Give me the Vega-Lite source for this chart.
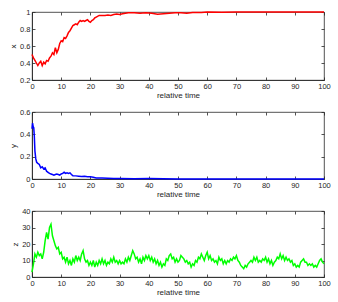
{
  "$schema": "https://vega.github.io/schema/vega-lite/v6.json",
  "padding": {"left": 9, "top": 7, "right": 8, "bottom": 2},
  "background": "white",
  "spacing": 7,
  "config": {
    "view": {"stroke": "#262626", "strokeWidth": 0.8},
    "font": "Liberation Sans",
    "axis": {
      "domainColor": "#262626", "domainWidth": 0.8,
      "tickColor": "#262626", "tickWidth": 0.8, "tickSize": -3,
      "labelColor": "#262626", "labelFont": "Liberation Sans", "labelFontSize": 7.5,
      "titleColor": "#262626", "titleFont": "Liberation Sans", "titleFontSize": 8, "titleFontWeight": "normal",
      "grid": false, "labelPadding": 5, "titlePadding": 2, "labelFlush": false, "labelOverlap": false
    }
  },
  "datasets": {
    "xs": [
      {"t":0,"v":0.5},{"t":0.5,"v":0.46},{"t":1,"v":0.43},{"t":1.5,"v":0.4},{"t":2,"v":0.37},{"t":2.5,"v":0.4},{"t":3,"v":0.42},{"t":3.5,"v":0.37},{"t":4,"v":0.41},{"t":4.5,"v":0.39},{"t":5,"v":0.43},{"t":5.5,"v":0.42},{"t":6,"v":0.46},{"t":6.5,"v":0.48},{"t":7,"v":0.52},{"t":7.5,"v":0.5},{"t":8,"v":0.58},{"t":8.5,"v":0.52},{"t":9,"v":0.56},{"t":9.5,"v":0.63},{"t":10,"v":0.66},{"t":10.5,"v":0.65},{"t":11,"v":0.7},{"t":11.5,"v":0.69},{"t":12,"v":0.72},{"t":12.5,"v":0.76},{"t":13,"v":0.78},{"t":13.5,"v":0.81},{"t":14,"v":0.84},{"t":14.5,"v":0.85},{"t":15,"v":0.86},{"t":15.5,"v":0.85},{"t":16,"v":0.88},{"t":16.5,"v":0.9},{"t":17,"v":0.89},{"t":17.5,"v":0.9},{"t":18,"v":0.89},{"t":18.5,"v":0.9},{"t":19,"v":0.91},{"t":19.5,"v":0.89},{"t":20,"v":0.88},{"t":20.5,"v":0.9},{"t":21,"v":0.91},{"t":21.5,"v":0.93},{"t":22,"v":0.94},{"t":23,"v":0.96},{"t":24,"v":0.96},{"t":25,"v":0.96},{"t":26,"v":0.965},{"t":27,"v":0.96},{"t":28,"v":0.97},{"t":29,"v":0.975},{"t":30,"v":0.97},{"t":31,"v":0.98},{"t":32,"v":0.985},{"t":33,"v":0.99},{"t":35,"v":0.99},{"t":37,"v":0.985},{"t":39,"v":0.99},{"t":41,"v":0.985},{"t":43,"v":0.975},{"t":45,"v":0.98},{"t":47,"v":0.985},{"t":49,"v":0.99},{"t":51,"v":0.99},{"t":53,"v":0.985},{"t":55,"v":0.995},{"t":58,"v":0.995},{"t":60,"v":1},{"t":65,"v":0.998},{"t":70,"v":1},{"t":80,"v":1},{"t":90,"v":1},{"t":100,"v":1}
    ],
    "ys": [
      {"t":0,"v":0.45},{"t":0.2,"v":0.5},{"t":0.4,"v":0.47},{"t":0.6,"v":0.46},{"t":0.8,"v":0.38},{"t":1,"v":0.25},{"t":1.3,"v":0.18},{"t":1.6,"v":0.15},{"t":2,"v":0.14},{"t":2.5,"v":0.13},{"t":3,"v":0.1},{"t":3.5,"v":0.11},{"t":4,"v":0.09},{"t":4.5,"v":0.1},{"t":5,"v":0.07},{"t":5.5,"v":0.06},{"t":6,"v":0.05},{"t":6.5,"v":0.045},{"t":7,"v":0.04},{"t":7.5,"v":0.035},{"t":8,"v":0.04},{"t":8.5,"v":0.045},{"t":9,"v":0.04},{"t":9.5,"v":0.035},{"t":10,"v":0.045},{"t":10.5,"v":0.05},{"t":11,"v":0.06},{"t":11.5,"v":0.05},{"t":12,"v":0.055},{"t":12.5,"v":0.05},{"t":13,"v":0.055},{"t":13.5,"v":0.04},{"t":14,"v":0.03},{"t":15,"v":0.028},{"t":16,"v":0.025},{"t":17,"v":0.022},{"t":18,"v":0.025},{"t":19,"v":0.02},{"t":20,"v":0.02},{"t":21,"v":0.015},{"t":22,"v":0.01},{"t":24,"v":0.009},{"t":26,"v":0.007},{"t":28,"v":0.005},{"t":30,"v":0.004},{"t":35,"v":0.003},{"t":40,"v":0.004},{"t":45,"v":0.003},{"t":50,"v":0.001},{"t":60,"v":0},{"t":70,"v":0},{"t":80,"v":0},{"t":90,"v":0},{"t":100,"v":0}
    ],
    "zs": [
      {"t":0,"v":3},{"t":0.5,"v":8},{"t":1,"v":14},{"t":1.5,"v":12},{"t":2,"v":15},{"t":2.5,"v":13},{"t":3,"v":14},{"t":3.5,"v":11},{"t":4,"v":15},{"t":4.5,"v":22},{"t":5,"v":27},{"t":5.5,"v":23},{"t":6,"v":30},{"t":6.5,"v":32},{"t":7,"v":25},{"t":7.5,"v":22},{"t":8,"v":19},{"t":8.5,"v":17},{"t":9,"v":18},{"t":9.5,"v":14},{"t":10,"v":15},{"t":10.5,"v":11},{"t":11,"v":12},{"t":11.5,"v":9},{"t":12,"v":12},{"t":12.5,"v":8},{"t":13,"v":10},{"t":13.5,"v":7},{"t":14,"v":11},{"t":14.5,"v":9},{"t":15,"v":13},{"t":15.5,"v":10},{"t":16,"v":12},{"t":16.5,"v":10},{"t":17,"v":14},{"t":17.5,"v":16},{"t":18,"v":11},{"t":18.5,"v":9},{"t":19,"v":10},{"t":19.5,"v":7},{"t":20,"v":9},{"t":20.5,"v":7},{"t":21,"v":10},{"t":21.5,"v":6},{"t":22,"v":9},{"t":22.5,"v":7},{"t":23,"v":10},{"t":23.5,"v":8},{"t":24,"v":11},{"t":24.5,"v":8},{"t":25,"v":10},{"t":25.5,"v":7},{"t":26,"v":9},{"t":26.5,"v":8},{"t":27,"v":11},{"t":27.5,"v":9},{"t":28,"v":12},{"t":28.5,"v":9},{"t":29,"v":10},{"t":29.5,"v":8},{"t":30,"v":10},{"t":30.5,"v":8},{"t":31,"v":9},{"t":31.5,"v":8},{"t":32,"v":11},{"t":32.5,"v":9},{"t":33,"v":12},{"t":33.5,"v":10},{"t":34,"v":13},{"t":34.5,"v":16},{"t":35,"v":14},{"t":35.5,"v":11},{"t":36,"v":12},{"t":36.5,"v":9},{"t":37,"v":11},{"t":37.5,"v":8},{"t":38,"v":12},{"t":38.5,"v":10},{"t":39,"v":13},{"t":39.5,"v":11},{"t":40,"v":13},{"t":40.5,"v":10},{"t":41,"v":12},{"t":41.5,"v":9},{"t":42,"v":11},{"t":42.5,"v":8},{"t":43,"v":10},{"t":43.5,"v":7},{"t":44,"v":9},{"t":44.5,"v":6},{"t":45,"v":8},{"t":45.5,"v":7},{"t":46,"v":11},{"t":46.5,"v":10},{"t":47,"v":13},{"t":47.5,"v":14},{"t":48,"v":11},{"t":48.5,"v":12},{"t":49,"v":9},{"t":49.5,"v":11},{"t":50,"v":9},{"t":50.5,"v":10},{"t":51,"v":13},{"t":51.5,"v":12},{"t":52,"v":11},{"t":52.5,"v":9},{"t":53,"v":10},{"t":53.5,"v":8},{"t":54,"v":9},{"t":54.5,"v":6},{"t":55,"v":8},{"t":55.5,"v":7},{"t":56,"v":10},{"t":56.5,"v":9},{"t":57,"v":12},{"t":57.5,"v":11},{"t":58,"v":14},{"t":58.5,"v":12},{"t":59,"v":10},{"t":59.5,"v":13},{"t":60,"v":15},{"t":60.5,"v":11},{"t":61,"v":13},{"t":61.5,"v":10},{"t":62,"v":11},{"t":62.5,"v":9},{"t":63,"v":10},{"t":63.5,"v":8},{"t":64,"v":12},{"t":64.5,"v":10},{"t":65,"v":11},{"t":65.5,"v":8},{"t":66,"v":10},{"t":66.5,"v":8},{"t":67,"v":10},{"t":67.5,"v":9},{"t":68,"v":11},{"t":68.5,"v":10},{"t":69,"v":12},{"t":69.5,"v":11},{"t":70,"v":13},{"t":70.5,"v":10},{"t":71,"v":9},{"t":71.5,"v":7},{"t":72,"v":6},{"t":72.5,"v":5},{"t":73,"v":7},{"t":73.5,"v":6},{"t":74,"v":8},{"t":74.5,"v":9},{"t":75,"v":10},{"t":75.5,"v":9},{"t":76,"v":12},{"t":76.5,"v":10},{"t":77,"v":12},{"t":77.5,"v":9},{"t":78,"v":10},{"t":78.5,"v":9},{"t":79,"v":11},{"t":79.5,"v":10},{"t":80,"v":12},{"t":80.5,"v":9},{"t":81,"v":11},{"t":81.5,"v":8},{"t":82,"v":10},{"t":82.5,"v":7},{"t":83,"v":9},{"t":83.5,"v":10},{"t":84,"v":12},{"t":84.5,"v":11},{"t":85,"v":14},{"t":85.5,"v":11},{"t":86,"v":13},{"t":86.5,"v":10},{"t":87,"v":12},{"t":87.5,"v":10},{"t":88,"v":11},{"t":88.5,"v":9},{"t":89,"v":10},{"t":89.5,"v":7},{"t":90,"v":8},{"t":90.5,"v":6},{"t":91,"v":7},{"t":91.5,"v":6},{"t":92,"v":9},{"t":92.5,"v":10},{"t":93,"v":11},{"t":93.5,"v":9},{"t":94,"v":9},{"t":94.5,"v":7},{"t":95,"v":8},{"t":95.5,"v":7},{"t":96,"v":8},{"t":96.5,"v":6},{"t":97,"v":7},{"t":97.5,"v":6},{"t":98,"v":8},{"t":98.5,"v":10},{"t":99,"v":11},{"t":99.5,"v":9},{"t":100,"v":8}
    ]
  },
  "vconcat": [
    {
      "width": 292, "height": 68,
      "data": {"name": "xs"},
      "resolve": {"axis": {"x": "independent", "y": "independent"}},
      "layer": [
        {
          "mark": {"type": "line", "color": "#ff0000", "strokeWidth": 1.5},
          "encoding": {
            "x": {"field": "t", "type": "quantitative", "scale": {"domain": [0, 100], "nice": false}, "axis": {"title": "relative time", "values": [0,10,20,30,40,50,60,70,80,90,100]}},
            "y": {"field": "v", "type": "quantitative", "scale": {"domain": [0.2, 1], "nice": false}, "axis": {"title": "x", "values": [0.2,0.4,0.6,0.8,1], "format": ".1~f"}}
          }
        },
        {
          "mark": {"type": "line", "opacity": 0},
          "encoding": {
            "x": {"field": "t", "type": "quantitative", "axis": {"orient": "top", "title": null, "labels": false, "domain": false, "values": [0,10,20,30,40,50,60,70,80,90,100]}},
            "y": {"field": "v", "type": "quantitative", "axis": {"orient": "right", "title": null, "labels": false, "domain": false, "values": [0.2,0.4,0.6,0.8,1]}}
          }
        }
      ]
    },
    {
      "width": 292, "height": 67,
      "data": {"name": "ys"},
      "resolve": {"axis": {"x": "independent", "y": "independent"}},
      "layer": [
        {
          "mark": {"type": "line", "color": "#0000ff", "strokeWidth": 1.5},
          "encoding": {
            "x": {"field": "t", "type": "quantitative", "scale": {"domain": [0, 100], "nice": false}, "axis": {"title": "relative time", "values": [0,10,20,30,40,50,60,70,80,90,100]}},
            "y": {"field": "v", "type": "quantitative", "scale": {"domain": [0, 0.6], "nice": false}, "axis": {"title": "y", "values": [0,0.2,0.4,0.6], "format": ".1~f"}}
          }
        },
        {
          "mark": {"type": "line", "opacity": 0},
          "encoding": {
            "x": {"field": "t", "type": "quantitative", "axis": {"orient": "top", "title": null, "labels": false, "domain": false, "values": [0,10,20,30,40,50,60,70,80,90,100]}},
            "y": {"field": "v", "type": "quantitative", "axis": {"orient": "right", "title": null, "labels": false, "domain": false, "values": [0,0.2,0.4,0.6]}}
          }
        }
      ]
    },
    {
      "width": 292, "height": 66,
      "data": {"name": "zs"},
      "resolve": {"axis": {"x": "independent", "y": "independent"}},
      "layer": [
        {
          "mark": {"type": "line", "color": "#00ff00", "strokeWidth": 1.5},
          "encoding": {
            "x": {"field": "t", "type": "quantitative", "scale": {"domain": [0, 100], "nice": false}, "axis": {"title": "relative time", "values": [0,10,20,30,40,50,60,70,80,90,100]}},
            "y": {"field": "v", "type": "quantitative", "scale": {"domain": [0, 40], "nice": false}, "axis": {"title": "z", "values": [0,10,20,30,40], "format": "d"}}
          }
        },
        {
          "mark": {"type": "line", "opacity": 0},
          "encoding": {
            "x": {"field": "t", "type": "quantitative", "axis": {"orient": "top", "title": null, "labels": false, "domain": false, "values": [0,10,20,30,40,50,60,70,80,90,100]}},
            "y": {"field": "v", "type": "quantitative", "axis": {"orient": "right", "title": null, "labels": false, "domain": false, "values": [0,10,20,30,40]}}
          }
        }
      ]
    }
  ]
}
